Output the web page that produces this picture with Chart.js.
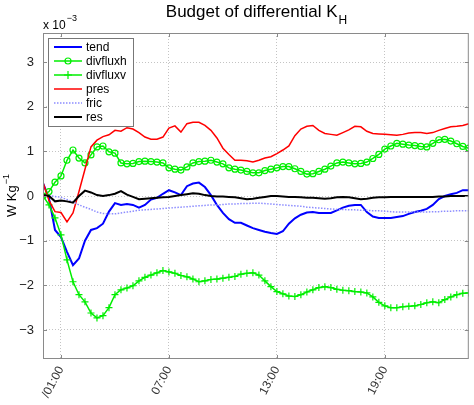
<!DOCTYPE html>
<html>
<head>
<meta charset="utf-8">
<script src="https://cdn.jsdelivr.net/npm/chart.js@4/dist/chart.umd.min.js"></script>
<style>
  html, body { margin: 0; padding: 0; background: #fff; }
  #wrap { width: 474px; height: 405px; }
</style>
</head>
<body>
<div id="wrap"><canvas id="myChart"></canvas></div>
<script>
// samples every 20 minutes from 00:00 to 23:40, values in units of 1e-3 W/kg
const stepHours = 1 / 3;

const tend = [
  0.29, -0.05, -0.76,  -0.92, -1.25, -1.55,  -1.40, -1.00, -0.76,
  -0.72, -0.62, -0.35,  -0.16, -0.20, -0.18,  -0.20, -0.26, -0.20,
  -0.08, -0.04, 0.05,  0.13, 0.08, 0.02,  0.22, 0.28, 0.30,
  0.20, 0.02, -0.20,  -0.38, -0.52, -0.60,  -0.60, -0.66, -0.72,
  -0.76, -0.80, -0.83,  -0.85, -0.79, -0.62,  -0.50, -0.42, -0.37,
  -0.36, -0.38, -0.38,  -0.38, -0.32, -0.26,  -0.22, -0.20, -0.20,
  -0.36, -0.46, -0.49,  -0.49, -0.49, -0.47,  -0.45, -0.40, -0.36,
  -0.33, -0.29, -0.20,  -0.07, 0.00, 0.04,  0.07, 0.13, 0.13
];
const divfluxh = [
  0.00, 0.10, 0.31,  0.45, 0.80, 1.03,  0.85, 0.74, 0.92,
  1.10, 1.12, 0.99,  0.96, 0.74, 0.72,  0.73, 0.77, 0.78,
  0.77, 0.76, 0.74,  0.63, 0.60, 0.58,  0.65, 0.74, 0.77,
  0.78, 0.80, 0.76,  0.72, 0.63, 0.60,  0.58, 0.55, 0.52,
  0.52, 0.57, 0.60,  0.63, 0.66, 0.66,  0.61, 0.55, 0.49,
  0.50, 0.55, 0.60,  0.67, 0.74, 0.76,  0.74, 0.72, 0.73,
  0.76, 0.84, 0.93,  1.05, 1.12, 1.18,  1.16, 1.14, 1.13,
  1.11, 1.10, 1.18,  1.26, 1.27, 1.23,  1.17, 1.11, 1.07
];
const divfluxv = [
  0.00, -0.20, -0.49,  -0.87, -1.43, -1.92,  -2.21, -2.37, -2.62,
  -2.73, -2.68, -2.50,  -2.21, -2.10, -2.06,  -2.01, -1.90, -1.82,
  -1.77, -1.72, -1.67,  -1.70, -1.73, -1.78,  -1.81, -1.86, -1.92,
  -1.90, -1.87, -1.86,  -1.84, -1.82, -1.80,  -1.75, -1.73, -1.72,
  -1.77, -1.90, -2.03,  -2.14, -2.19, -2.24,  -2.25, -2.21, -2.15,
  -2.10, -2.05, -2.03,  -2.05, -2.09, -2.11,  -2.12, -2.14, -2.15,
  -2.17, -2.26, -2.38,  -2.46, -2.50, -2.50,  -2.48, -2.47, -2.46,
  -2.43, -2.39, -2.37,  -2.39, -2.32, -2.26,  -2.21, -2.18, -2.17
];
const pres = [
  0.30, -0.10, -0.35,  -0.37, -0.58, -0.38,  0.10, 0.60, 1.10,
  1.25, 1.33, 1.37,  1.47, 1.45, 1.53,  1.50, 1.42, 1.32,
  1.27, 1.27, 1.32,  1.52, 1.57, 1.43,  1.62, 1.65, 1.65,
  1.58, 1.47, 1.30,  1.07, 0.93, 0.80,  0.80, 0.79, 0.76,
  0.80, 0.85, 0.88,  0.95, 1.03, 1.12,  1.35, 1.50, 1.56,
  1.58, 1.47, 1.40,  1.38, 1.36, 1.42,  1.48, 1.56, 1.55,
  1.45, 1.40, 1.39,  1.38, 1.37, 1.36,  1.38, 1.41, 1.42,
  1.42, 1.40, 1.42,  1.47, 1.51, 1.55,  1.56, 1.58, 1.62
];
const fric = [
  0.02, 0.01, -0.01,  -0.03, -0.08, -0.13,  -0.20, -0.25, -0.30,
  -0.36, -0.39, -0.40,  -0.40, -0.38, -0.36,  -0.34, -0.32, -0.31,
  -0.30, -0.29, -0.28,  -0.27, -0.26, -0.25,  -0.24, -0.23, -0.22,
  -0.21, -0.20, -0.20,  -0.19, -0.18, -0.18,  -0.17, -0.17, -0.16,
  -0.16, -0.17, -0.18,  -0.19, -0.20, -0.21,  -0.22, -0.23, -0.25,
  -0.26, -0.27, -0.28,  -0.29, -0.30, -0.30,  -0.31, -0.31, -0.32,
  -0.32, -0.33, -0.33,  -0.34, -0.35, -0.36,  -0.36, -0.36, -0.36,
  -0.36, -0.36, -0.35,  -0.35, -0.34, -0.34,  -0.33, -0.33, -0.33
];
const res = [
  0.02, 0.00, -0.12,  -0.10, -0.12, -0.15,  0.00, 0.12, 0.08,
  0.02, 0.00, 0.02,  0.05, 0.11, 0.03,  -0.02, -0.07, -0.06,
  -0.05, -0.04, -0.03,  -0.02, 0.00, 0.02,  0.04, 0.06, 0.05,
  0.02, 0.00, -0.01,  -0.01, -0.02, -0.03,  -0.05, -0.07, -0.06,
  -0.04, -0.02, 0.00,  0.00, -0.01, -0.02,  -0.02, -0.03, -0.04,
  -0.04, -0.05, -0.06,  -0.05, -0.03, -0.02,  -0.03, -0.05, -0.07,
  -0.06, -0.04, -0.03,  -0.03, -0.02, -0.02,  -0.02, -0.02, -0.02,
  -0.02, -0.02, -0.02,  -0.01, -0.01, 0.00,  0.00, 0.00, 0.00
];

const xTickHours = [1, 7, 13, 19];
const xTickLabels = ['/01:00', '07:00', '13:00', '19:00'];
const yTicks = [-3, -2, -1, 0, 1, 2, 3];

const font = "'Liberation Sans', Arial, sans-serif";

function toPoints(arr) {
  return arr.map((v, i) => ({ x: i * stepHours, y: v }));
}

const series = [
  { label: 'tend',     data: tend,     color: '#0000ff', width: 2 },
  { label: 'divfluxh', data: divfluxh, color: '#00ee00', width: 1.5, marker: 'circle' },
  { label: 'divfluxv', data: divfluxv, color: '#00ee00', width: 1.5, marker: 'cross' },
  { label: 'pres',     data: pres,     color: '#ff0000', width: 1.5 },
  { label: 'fric',     data: fric,     color: '#8c8cff', width: 1.5, dash: [1.5, 1.5] },
  { label: 'res',      data: res,      color: '#000000', width: 2 }
];

// title, exponent label, y title, box and the legend inside the plot
const decor = {
  id: 'decor',
  afterDraw(chart) {
    const ctx = chart.ctx;
    const a = chart.chartArea;
    ctx.save();

    // title with subscript
    ctx.fillStyle = '#000';
    ctx.textBaseline = 'alphabetic';
    ctx.font = '17px ' + font;
    const main = 'Budget of differential K';
    const w1 = ctx.measureText(main).width;
    ctx.font = '12px ' + font;
    const w2 = ctx.measureText('H').width;
    let tx = 256 - (w1 + w2) / 2;
    ctx.font = '17px ' + font;
    ctx.textAlign = 'left';
    ctx.fillText(main, tx, 17);
    ctx.font = '12px ' + font;
    ctx.fillText('H', tx + w1 + 1, 24);

    // x 10^-3
    ctx.font = '12px ' + font;
    ctx.fillText('x 10', a.left, 29);
    const wx = ctx.measureText('x 10').width;
    ctx.font = '9px ' + font;
    ctx.fillText('\u22123', a.left + wx + 1, 21);

    // y title
    ctx.save();
    ctx.translate(16, (a.top + a.bottom) / 2);
    ctx.rotate(-Math.PI / 2);
    ctx.font = '13px ' + font;
    const yt = 'W Kg';
    const wy = ctx.measureText(yt).width;
    ctx.font = '9px ' + font;
    const ws = ctx.measureText('\u22121').width;
    let yx = -(wy + ws) / 2;
    ctx.font = '13px ' + font;
    ctx.fillText(yt, yx, 0);
    ctx.font = '9px ' + font;
    ctx.fillText('\u22121', yx + wy + 1, -7);
    ctx.restore();

    // axes box + small inner tick marks
    ctx.strokeStyle = '#8a8a8a';
    ctx.lineWidth = 1;
    ctx.strokeRect(a.left + 0.5, a.top + 0.5, a.right - a.left - 1, a.bottom - a.top - 1);
    const ys = chart.scales.y, xs = chart.scales.x;
    ctx.beginPath();
    yTicks.forEach(v => {
      const py = Math.round(ys.getPixelForValue(v)) + 0.5;
      ctx.moveTo(a.left, py); ctx.lineTo(a.left + 4, py);
      ctx.moveTo(a.right, py); ctx.lineTo(a.right - 4, py);
    });
    xTickHours.forEach(h => {
      const px = Math.round(xs.getPixelForValue(h)) + 0.5;
      ctx.moveTo(px, a.bottom); ctx.lineTo(px, a.bottom - 4);
      ctx.moveTo(px, a.top); ctx.lineTo(px, a.top + 4);
    });
    ctx.stroke();

    // legend box
    const lx = a.left + 5, ly = a.top + 5, lw = 85, lh = 88;
    ctx.fillStyle = '#fff';
    ctx.fillRect(lx, ly, lw, lh);
    ctx.strokeStyle = '#777';
    ctx.strokeRect(lx + 0.5, ly + 0.5, lw, lh);
    ctx.font = '12px ' + font;
    ctx.textBaseline = 'middle';
    series.forEach((s, i) => {
      const cy = ly + 9 + i * 14;
      ctx.strokeStyle = s.color;
      ctx.lineWidth = s.width;
      ctx.setLineDash(s.dash || []);
      ctx.beginPath();
      ctx.moveTo(lx + 6, cy); ctx.lineTo(lx + 34, cy);
      ctx.stroke();
      ctx.setLineDash([]);
      if (s.marker === 'circle') {
        ctx.lineWidth = 1.2;
        ctx.beginPath();
        ctx.arc(lx + 20, cy, 3, 0, Math.PI * 2);
        ctx.stroke();
      } else if (s.marker === 'cross') {
        ctx.lineWidth = 1.2;
        ctx.beginPath();
        ctx.moveTo(lx + 20, cy - 4); ctx.lineTo(lx + 20, cy + 4);
        ctx.moveTo(lx + 16, cy); ctx.lineTo(lx + 24, cy);
        ctx.stroke();
      }
      ctx.fillStyle = '#000';
      ctx.fillText(s.label, lx + 38, cy + 1);
    });
    ctx.restore();
  }
};

const chartInstance = new Chart('myChart', {
  type: 'line',
  data: {
    datasets: series.map((s, i) => ({
      label: s.label,
      data: toPoints(s.data),
      borderColor: s.color,
      backgroundColor: 'transparent',
      borderWidth: s.width,
      borderDash: s.dash || [],
      pointStyle: s.marker || 'circle',
      pointRadius: s.marker ? (s.marker === 'cross' ? 3.5 : 3) : 0,
      pointBorderWidth: 1.2,
      pointBorderColor: s.color,
      pointBackgroundColor: 'transparent',
      tension: 0,
      order: series.length - i
    }))
  },
  options: {
    responsive: true,
    maintainAspectRatio: false,
    animation: false,
    events: [],
    layout: { padding: { left: 0, right: 5, top: 33, bottom: 0 } },
    plugins: {
      legend: { display: false },
      title: { display: false },
      tooltip: { enabled: false }
    },
    scales: {
      x: {
        type: 'linear',
        min: 0,
        max: (tend.length - 1) * stepHours,
        afterBuildTicks: s => { s.ticks = xTickHours.map(v => ({ value: v })); },
        afterFit: s => { s.height = 46; },
        border: { display: false, dash: [1, 2] },
        grid: { drawTicks: false, color: '#c4c4c4', lineWidth: 1 },
        ticks: {
          autoSkip: false,
          minRotation: 62,
          maxRotation: 62,
          padding: 5,
          color: '#333',
          font: { family: font, size: 12 },
          callback: v => {
            const k = xTickHours.indexOf(v);
            return k >= 0 ? xTickLabels[k] : '';
          }
        }
      },
      y: {
        min: -3.65,
        max: 3.65,
        afterBuildTicks: s => { s.ticks = yTicks.map(v => ({ value: v })); },
        afterFit: s => { s.width = 43; },
        border: { display: false, dash: [1, 2] },
        grid: { drawTicks: false, color: '#c4c4c4', lineWidth: 1 },
        ticks: {
          padding: 9,
          color: '#222',
          font: { family: font, size: 13 },
          callback: v => (v < 0 ? '\u2212' + Math.abs(v) : String(v))
        }
      }
    }
  },
  plugins: [decor]
});
</script>
</body>
</html>
